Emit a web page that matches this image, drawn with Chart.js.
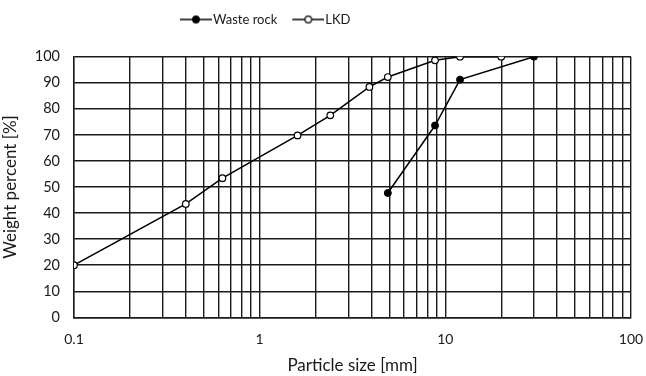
<!DOCTYPE html>
<html>
<head>
<meta charset="utf-8">
<script src="https://cdn.jsdelivr.net/npm/chart.js@4.4.1/dist/chart.umd.min.js"></script>
<style>
  html, body { margin: 0; padding: 0; background: #ffffff; }
  #wrap { width: 646px; height: 376px; }
</style>
</head>
<body>
<div id="wrap"><canvas id="chart" width="646" height="376"></canvas></div>
<script>
// Grain size distribution: cumulative weight percent passing vs particle size
const lkdSize = [0.1, 0.4, 0.63, 1.6, 2.4, 3.9, 4.9, 8.8, 12, 20];
const lkdPercent = [20, 43.5, 53.4, 69.8, 77.5, 88.4, 92.2, 98.6, 100, 100];
const rockSize = [4.9, 8.8, 12, 30];
const rockPercent = [47.7, 73.6, 91.2, 100];
const seriesNames = ['Waste rock', 'LKD'];
const xTickLabels = ['0.1', '1', '10', '100'];
const yMin = 0, yMax = 100, yStep = 10;

// log grid: 1..9 in each decade from 0.1 to 100
const xGridValues = [];
[0.1, 1, 10].forEach(d => { for (let k = 1; k <= 9; k++) xGridValues.push(+(k * d).toFixed(3)); });
xGridValues.push(100);

const INK = '#1a1a1a';
const FONT = 'Lato, "Open Sans", sans-serif';

function toPoints(xs, ys) { return xs.map((x, i) => ({ x, y: ys[i] })); }

// legend swatch: short line with the series marker in the middle
function legendIcon(filled) {
  const c = document.createElement('canvas');
  c.width = 42; c.height = 10;
  const g = c.getContext('2d');
  g.strokeStyle = '#000';
  g.lineWidth = 1.5;
  g.beginPath(); g.moveTo(10, 5); g.lineTo(42, 5); g.stroke();
  g.beginPath(); g.arc(26, 5, 3.3, 0, Math.PI * 2);
  g.fillStyle = filled ? '#000' : '#fff';
  g.fill();
  g.lineWidth = 1.2;
  g.stroke();
  return c;
}
const icons = [legendIcon(true), legendIcon(false)];

const layoutTweaks = {
  id: 'layoutTweaks',
  afterInit(chart) {
    const lg = chart.legend;
    const fit = lg.fit;
    lg.fit = function () { fit.call(this); this.height = 56.7; };
  },
  afterLayout(chart) {
    const lg = chart.legend;
    const w = lg.right - lg.left;
    lg.left = 165;
    lg.right = lg.left + w;
    lg.top = 2.5;
  }
};

new Chart(document.getElementById('chart'), {
  type: 'line',
  data: {
    datasets: [
      {
        label: seriesNames[0],
        data: toPoints(rockSize, rockPercent),
        borderColor: '#000',
        borderWidth: 1.5,
        pointRadius: 3.5,
        pointBackgroundColor: '#000',
        pointBorderColor: '#000',
        pointBorderWidth: 1,
        tension: 0
      },
      {
        label: seriesNames[1],
        data: toPoints(lkdSize, lkdPercent),
        borderColor: '#000',
        borderWidth: 1.5,
        pointRadius: 3.3,
        pointBackgroundColor: '#fff',
        pointBorderColor: '#000',
        pointBorderWidth: 1.2,
        tension: 0
      }
    ]
  },
  options: {
    responsive: false,
    animation: false,
    devicePixelRatio: 1,
    layout: { padding: { left: 0, right: 15, top: 0, bottom: 0 } },
    plugins: {
      tooltip: { enabled: false },
      legend: {
        position: 'top',
        align: 'start',
        labels: {
          usePointStyle: true,
          pointStyleWidth: 31,
          padding: 10.5,
          color: INK,
          font: { family: FONT, size: 13 },
          generateLabels(chart) {
            const items = Chart.defaults.plugins.legend.labels.generateLabels(chart);
            items.forEach((it, i) => { it.pointStyle = icons[i]; });
            return items;
          }
        }
      }
    },
    scales: {
      x: {
        type: 'logarithmic',
        position: 'bottom',
        min: 0.1,
        max: 100,
        afterBuildTicks(scale) { scale.ticks = xGridValues.map(v => ({ value: v })); },
        afterFit(scale) {
          scale.height = 58.7;
          scale.paddingLeft = 0;
          scale.paddingRight = 0;
        },
        ticks: {
          autoSkip: false,
          maxRotation: 0,
          padding: 14,
          color: INK,
          font: { family: FONT, size: 14 },
          callback(v) {
            const s = xTickLabels.find(t => Math.abs(parseFloat(t) - v) < 1e-9);
            return s === undefined ? '' : s;
          }
        },
        grid: { color: INK, lineWidth: 1.4, drawTicks: false },
        border: { display: true, color: INK, width: 1.4 },
        title: {
          display: true,
          text: 'Particle size [mm]',
          color: INK,
          font: { family: FONT, size: 17 },
          padding: { top: 0, bottom: 0 }
        }
      },
      y: {
        min: yMin,
        max: yMax,
        afterFit(scale) { scale.width = 74; },
        ticks: {
          stepSize: yStep,
          padding: 14,
          color: INK,
          font: { family: FONT, size: 14.5 }
        },
        grid: { color: INK, lineWidth: 1.4, drawTicks: false },
        border: { display: true, color: INK, width: 1.4 },
        title: {
          display: true,
          text: 'Weight percent [%]',
          color: INK,
          font: { family: FONT, size: 17 },
          padding: { top: 0, bottom: 0 }
        }
      }
    }
  },
  plugins: [layoutTweaks]
});
</script>
</body>
</html>
